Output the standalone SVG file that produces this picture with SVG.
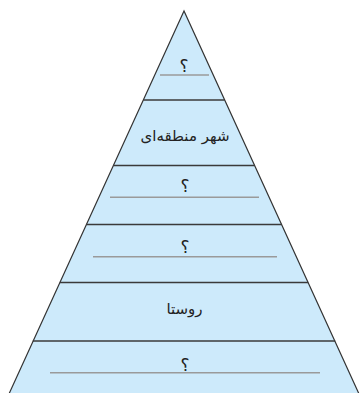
<svg xmlns="http://www.w3.org/2000/svg" width="360" height="393" viewBox="0 0 360 393">
<style>
.t{font-family:"DejaVu Sans","Noto Sans",sans-serif;font-size:15px;fill:#222;text-anchor:middle;direction:rtl}
.q{font-family:"DejaVu Sans","Noto Sans",sans-serif;font-size:17px;fill:#222;text-anchor:middle;direction:rtl}
.u{stroke:#9a9a9a;stroke-width:1.5}
.d{stroke:#3a3a3a;stroke-width:1.5}
</style>
<rect width="360" height="393" fill="#fff"/>
<g id="pyramid">
<polygon points="184,11 8.5,395 359.5,395" fill="#cdeafb" stroke="#333" stroke-width="1.2" stroke-linejoin="miter"/>
</g>
<g id="connectors">
<line class="d" x1="143.3" y1="100" x2="224.7" y2="100"/>
<line class="d" x1="113.3" y1="165.5" x2="254.7" y2="165.5"/>
<line class="d" x1="86.3" y1="224.5" x2="281.7" y2="224.5"/>
<line class="d" x1="59.8" y1="282.5" x2="308.2" y2="282.5"/>
<line class="d" x1="32.8" y1="341" x2="335.2" y2="341"/>
</g>
<g id="level1">
<text class="q" x="184" y="72">؟</text>
<line class="u" x1="160" y1="75" x2="209" y2="75"/>
</g>
<g id="level2">
<text class="t" x="185" y="141">شهر منطقه&#x200C;ای</text>
</g>
<g id="level3">
<text class="q" x="185" y="192">؟</text>
<line class="u" x1="110" y1="197.3" x2="259" y2="197.3"/>
</g>
<g id="level4">
<text class="q" x="185" y="253">؟</text>
<line class="u" x1="93" y1="256.7" x2="277" y2="256.7"/>
</g>
<g id="level5">
<text class="t" x="184.5" y="314">روستا</text>
</g>
<g id="level6">
<text class="q" x="185" y="371">؟</text>
<line class="u" x1="50" y1="372.7" x2="320" y2="372.7"/>
</g>
</svg>
